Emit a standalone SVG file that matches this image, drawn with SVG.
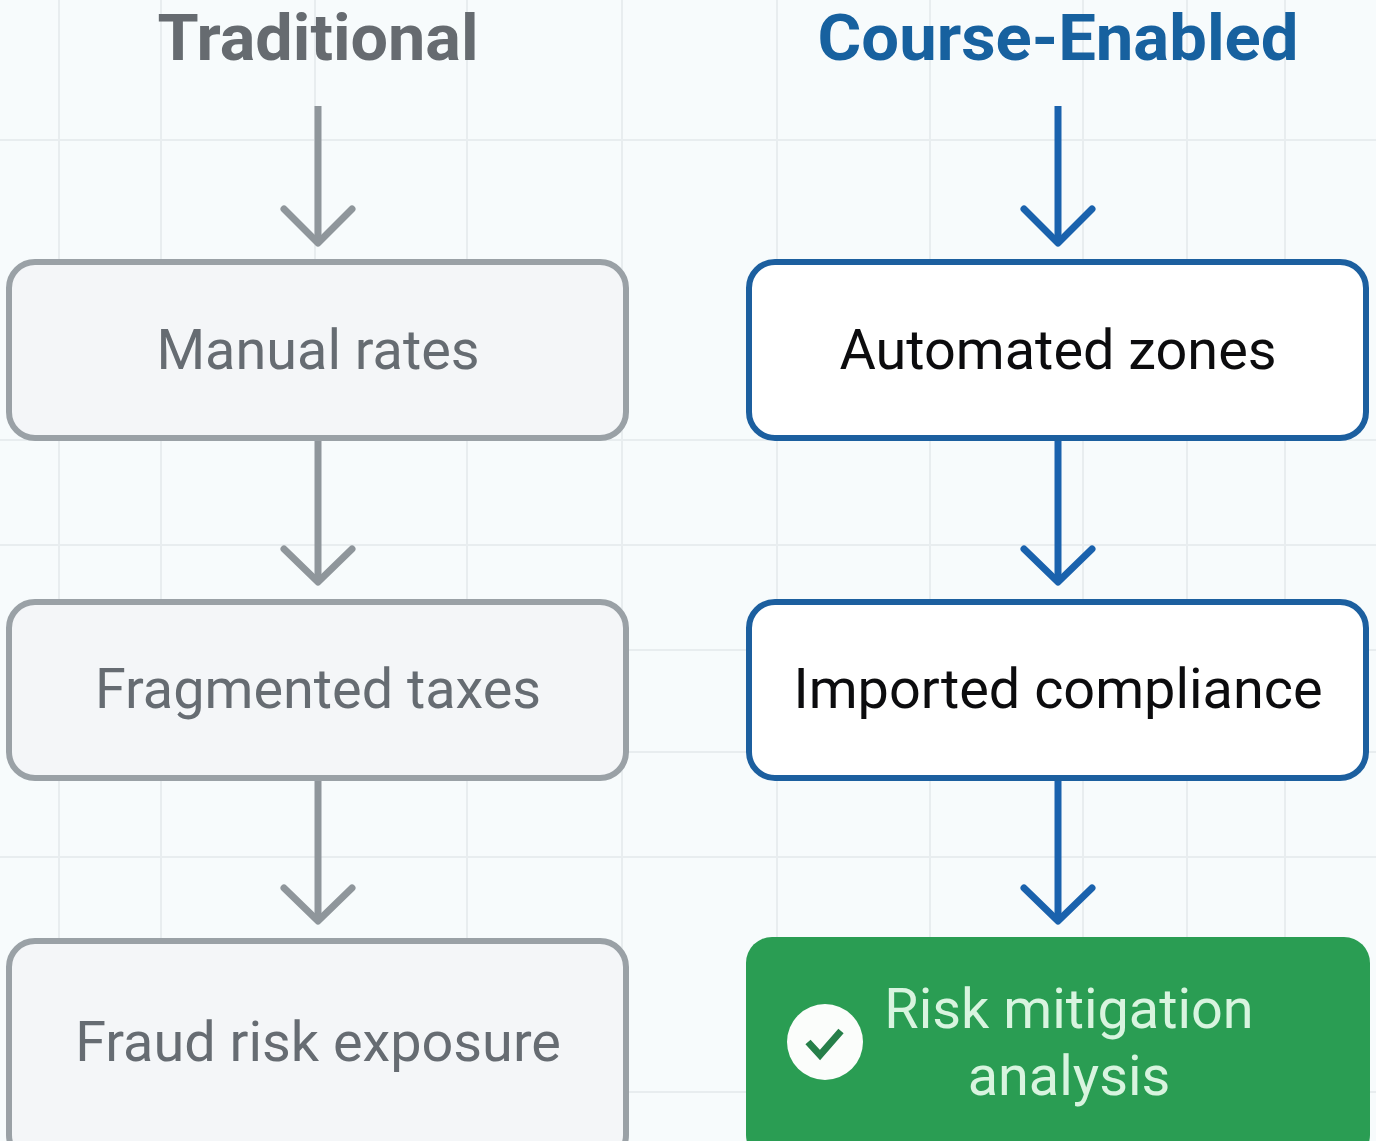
<svg xmlns="http://www.w3.org/2000/svg" width="1376" height="1141" viewBox="0 0 1376 1141">
<style>
.grid line{stroke:#e8edef;stroke-width:2}
.t{font-family:Roboto,"Liberation Sans",sans-serif;text-anchor:middle}
.head{font-size:64px;font-weight:700}
.lab{font-size:55.8px}
.old rect{fill:#f4f6f8;stroke:#9aa1a6;stroke-width:6}
.new rect{fill:#fff;stroke:#1c5f9f;stroke-width:6}
.old text{fill:#666c72}
.new text{fill:#0c0c0e}
.c{fill:none;stroke-width:7;stroke-linejoin:round}
.a{stroke-linecap:round}
.cg{stroke:#8f969b}
.cb{stroke:#1a62ad}
</style>
<rect width="1376" height="1141" fill="#f7fbfc"/>
<g class="grid">
<line x1="59" y1="0" x2="59" y2="1141"/><line x1="161" y1="0" x2="161" y2="1141"/><line x1="315" y1="0" x2="315" y2="260"/><line x1="467" y1="0" x2="467" y2="1141"/><line x1="622" y1="0" x2="622" y2="1141"/>
<line x1="777" y1="0" x2="777" y2="1141"/><line x1="930" y1="0" x2="930" y2="1141"/><line x1="1083" y1="0" x2="1083" y2="1141"/><line x1="1187" y1="0" x2="1187" y2="1141"/><line x1="1285" y1="0" x2="1285" y2="1141"/>
<line x1="0" y1="140" x2="1376" y2="140"/><line x1="0" y1="440" x2="1376" y2="440"/><line x1="0" y1="545" x2="1376" y2="545"/><line x1="622" y1="650" x2="1376" y2="650"/><line x1="622" y1="752" x2="1376" y2="752"/><line x1="0" y1="857" x2="1376" y2="857"/><line x1="622" y1="1092" x2="1376" y2="1092"/>
</g>
<g id="connectors">
<path class="c cg" d="M318 106V243"/><path class="c a cg" d="M284 209L318 243L352 209"/>
<path class="c cg" d="M318 441V582"/><path class="c a cg" d="M284 549L318 582L352 549"/>
<path class="c cg" d="M318 781V921"/><path class="c a cg" d="M284 888L318 921L352 888"/>
<path class="c cb" d="M1058 106V243"/><path class="c a cb" d="M1024 209L1058 243L1092 209"/>
<path class="c cb" d="M1058 441V582"/><path class="c a cb" d="M1024 549L1058 582L1092 549"/>
<path class="c cb" d="M1058 781V921"/><path class="c a cb" d="M1024 888L1058 921L1092 888"/>
</g>
<g id="head-traditional"><text class="t head" x="318" y="60" fill="#666b70" textLength="321" lengthAdjust="spacingAndGlyphs">Traditional</text></g>
<g id="head-course"><text class="t head" x="1058" y="60" fill="#17619f" textLength="481" lengthAdjust="spacingAndGlyphs">Course-Enabled</text></g>
<g id="n1" class="old"><rect x="9" y="262" width="617" height="176" rx="26"/><text class="t lab" x="318" y="369">Manual rates</text></g>
<g id="n2" class="old"><rect x="9" y="602" width="617" height="176" rx="26"/><text class="t lab" x="318" y="708">Fragmented taxes</text></g>
<g id="n3" class="old"><rect x="9" y="941" width="617" height="220" rx="26"/><text class="t lab" x="318" y="1061">Fraud risk exposure</text></g>
<g id="n4" class="new"><rect x="749" y="262" width="617" height="176" rx="26"/><text class="t lab" x="1058" y="369">Automated zones</text></g>
<g id="n5" class="new"><rect x="749" y="602" width="617" height="176" rx="26"/><text class="t lab" x="1058" y="708">Imported compliance</text></g>
<g id="n6"><rect x="746" y="937" width="624" height="224" rx="26" fill="#2a9d53"/>
<circle cx="825" cy="1042" r="38" fill="#fbfdfb"/><path d="M808 1042L820 1055L841 1031" fill="none" stroke="#267f49" stroke-width="7"/>
<text class="t lab" x="1069" y="1028" fill="#d8f4df">Risk mitigation</text><text class="t lab" x="1069" y="1095" fill="#d8f4df">analysis</text></g>
</svg>
